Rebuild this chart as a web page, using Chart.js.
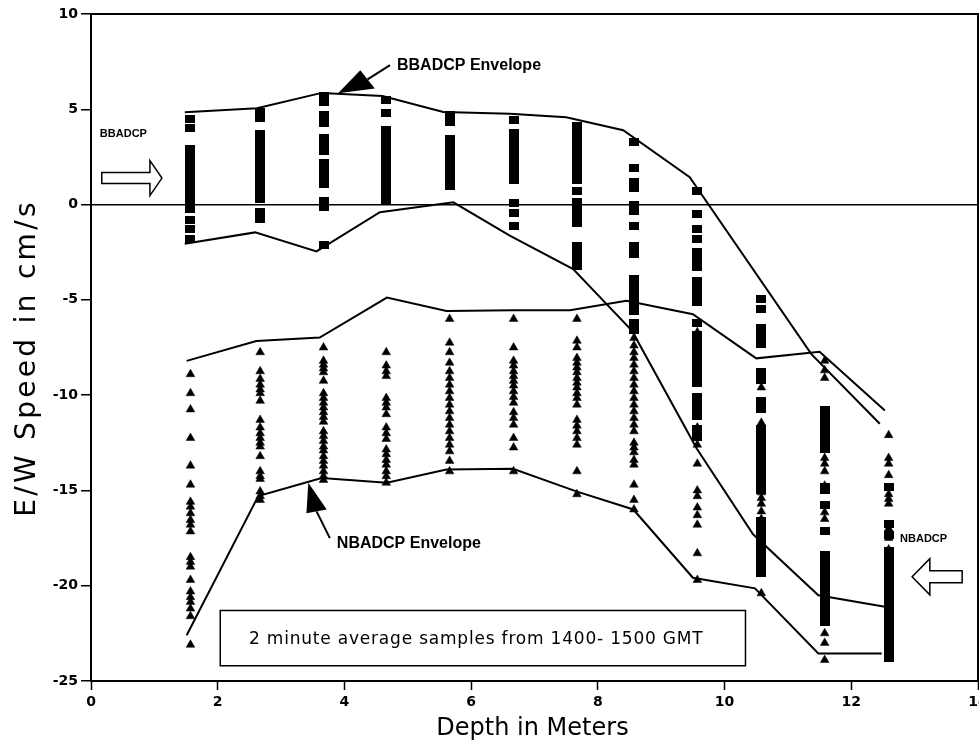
<!DOCTYPE html>
<html>
<head>
<meta charset="utf-8">
<script src="https://cdn.jsdelivr.net/npm/chart.js@4.4.1/dist/chart.umd.min.js"></script>
<style>
  html, body { margin: 0; padding: 0; background: #fff; overflow: hidden; }
  #wrap { position: relative; width: 1000px; height: 744px; }
</style>
</head>
<body>
<div id="wrap"><canvas id="chart"></canvas></div>
<script>
// depth of each sample column (m)
const depths = [1.57, 2.67, 3.67, 4.66, 5.66, 6.67, 7.67, 8.57, 9.57, 10.58, 11.58, 12.59];

// BBADCP samples (squares), one list per depth
const bbSamples = [
  [4.5, 4.0, 2.9, 2.55, 2.2, 1.85, 1.5, 1.15, 0.8, 0.45, 0.1, -0.25, -0.8, -1.3, -1.8],
  [4.85, 4.55, 3.7, 3.35, 3.0, 2.65, 2.3, 1.95, 1.6, 1.25, 0.9, 0.55, 0.3, -0.4, -0.75],
  [5.7, 5.4, 4.7, 4.3, 3.5, 3.1, 2.8, 2.2, 1.85, 1.5, 1.1, 0.2, -0.15, -2.1],
  [5.5, 4.8, 3.9, 3.55, 3.2, 2.85, 2.5, 2.15, 1.8, 1.45, 1.1, 0.75, 0.4, 0.2],
  [4.7, 4.35, 3.45, 3.1, 2.75, 2.4, 2.05, 1.7, 1.35, 1.0],
  [4.45, 3.75, 3.4, 3.05, 2.7, 2.35, 2.0, 1.65, 1.3, 0.1, -0.45, -1.1],
  [4.1, 3.75, 3.4, 3.05, 2.7, 2.35, 2.0, 1.65, 1.3, 0.7, 0.15, -0.2, -0.55, -0.95, -2.2, -2.55, -2.9, -3.2],
  [3.3, 1.9, 1.2, 0.85, 0.0, -0.35, -1.1, -2.2, -2.6, -3.9, -4.25, -4.6, -4.95, -5.3, -5.6, -6.2, -6.6],
  [0.7, -0.5, -1.3, -1.8, -2.5, -2.9, -3.3, -4.0, -4.35, -4.7, -5.1, -6.2, -6.85, -7.2, -7.55, -7.9,
   -8.25, -8.6, -8.95, -9.35, -10.1, -10.45, -10.8, -11.1, -11.8, -12.2],
  [-4.95, -5.5, -6.5, -6.9, -7.3, -8.8, -9.2, -10.3, -10.75, -11.8, -12.2, -12.6, -12.95, -13.3, -13.65,
   -14.0, -14.35, -14.7, -15.0, -16.6, -16.95, -17.3, -17.6, -17.95, -18.3, -18.65, -19.0, -19.35],
  [-10.8, -11.15, -11.5, -11.85, -12.2, -12.55, -12.8, -14.8, -15.0, -15.75, -17.15, -18.4, -18.75, -19.1,
   -19.45, -19.8, -20.15, -20.5, -20.85, -21.1, -21.5, -21.9],
  [-14.8, -16.75, -17.35, -18.2, -18.55, -18.9, -19.25, -19.6, -19.95, -20.3, -20.65, -21.0, -21.35,
   -21.7, -22.05, -22.4, -22.75, -23.1, -23.45, -23.8]
];

// NBADCP samples (triangles), one list per depth
const nbSamples = [
  [-8.9, -9.9, -10.75, -12.25, -13.7, -14.7, -15.6, -15.85, -16.2, -16.55, -16.8, -17.15, -18.5, -18.75,
   -19.0, -19.7, -20.3, -20.6, -20.85, -21.2, -21.6, -23.1],
  [-7.75, -8.75, -9.15, -9.45, -9.7, -9.9, -10.3, -11.3, -11.7, -12.0, -12.25, -12.5, -12.7, -13.2, -14.0,
   -14.25, -14.4, -15.05, -15.3, -15.5],
  [-7.5, -8.2, -8.4, -8.6, -8.8, -9.25, -9.9, -10.15, -10.4, -10.65, -10.9, -11.15, -11.4, -11.9, -12.15,
   -12.4, -12.7, -12.9, -13.2, -13.45, -13.7, -14.0, -14.25, -14.45],
  [-7.75, -8.45, -8.75, -9.0, -10.15, -10.4, -10.65, -11.0, -11.7, -12.0, -12.3, -12.85, -13.1, -13.4,
   -13.65, -14.0, -14.25, -14.6],
  [-6.0, -7.25, -7.75, -8.3, -8.75, -9.1, -9.45, -9.8, -10.15, -10.5, -10.85, -11.2, -11.55, -11.9,
   -12.25, -12.6, -12.95, -13.45, -14.0],
  [-6.0, -7.5, -8.2, -8.45, -8.75, -9.0, -9.25, -9.5, -9.8, -10.1, -10.4, -10.9, -11.2, -11.55, -12.25,
   -12.75, -14.0],
  [-6.0, -7.15, -7.5, -8.05, -8.3, -8.55, -8.8, -9.1, -9.35, -9.6, -9.9, -10.15, -10.5, -11.3, -11.6,
   -11.9, -12.25, -12.6, -14.0, -15.2],
  [-7.0, -7.4, -7.75, -8.05, -8.4, -8.75, -9.1, -9.45, -9.8, -10.15, -10.5, -10.85, -11.2, -11.55, -11.9,
   -12.5, -12.75, -13.0, -13.4, -13.65, -14.7, -15.5, -16.0],
  [-6.7, -11.7, -12.2, -12.6, -13.6, -15.0, -15.3, -15.9, -16.3, -16.8, -18.3, -19.7],
  [-9.6, -11.45, -15.1, -15.4, -15.7, -16.1, -16.5, -17.0, -17.4, -18.5, -20.4],
  [-8.2, -8.7, -9.1, -13.3, -13.6, -14.0, -14.75, -15.0, -16.15, -16.5, -22.5, -23.0, -23.9],
  [-12.1, -13.3, -13.6, -14.2, -15.2, -15.45, -15.7, -17.0, -17.5, -18.1]
];

// envelopes
const bbTopDepth = [1.48, 2.62, 3.64, 4.6, 5.56, 6.61, 7.5, 8.4, 9.45, 11.37, 12.45];
const bbTop      = [4.84, 5.05, 5.86, 5.7, 4.86, 4.77, 4.58, 3.9, 1.44, -7.85, -11.5];
const bbBotDepth = [1.48, 2.59, 3.56, 4.56, 5.72, 6.61, 7.61, 8.54, 9.56, 10.45, 11.48, 12.53];
const bbBot      = [-2.05, -1.46, -2.46, -0.4, 0.12, -1.63, -3.39, -6.63, -12.8, -17.3, -20.5, -21.1];
const nbTopDepth = [1.51, 2.61, 3.61, 4.67, 5.61, 6.66, 7.56, 8.45, 9.5, 10.5, 11.5, 12.53];
const nbTop      = [-8.2, -7.16, -6.98, -4.88, -5.58, -5.55, -5.54, -5.05, -5.75, -8.07, -7.72, -10.8];
const nbBotDepth = [1.51, 2.64, 3.64, 4.67, 5.61, 6.66, 7.66, 8.56, 9.5, 10.48, 11.48, 12.48];
const nbBot      = [-22.6, -15.3, -14.35, -14.6, -13.9, -13.86, -15.05, -16.0, -19.58, -20.14, -23.56, -23.56];

const xRange = [0, 14];
const yRange = [-25, 10];

const toPoints = samples => samples.flatMap((col, i) => col.map(v => ({ x: depths[i], y: v })));
const pair = (xs, ys) => xs.map((x, i) => ({ x, y: ys[i] }));

// square marker, a bit wider than tall like the plotter's
const square = document.createElement('canvas');
square.width = 10; square.height = 8;
const sq = square.getContext('2d');
sq.fillStyle = '#000';
sq.fillRect(0, 0, 10, 8);

const envelope = (xs, ys) => ({
  type: 'line', data: pair(xs, ys), borderColor: '#000', borderWidth: 2,
  pointRadius: 0, fill: false, tension: 0
});

// callouts, box, frame and titles
const notes = {
  id: 'notes',
  afterDraw(chart) {
    const { ctx, chartArea: a, scales: { x, y } } = chart;
    const X = v => x.getPixelForValue(v), Y = v => y.getPixelForValue(v);
    ctx.save();
    ctx.strokeStyle = '#000';
    ctx.fillStyle = '#000';

    // frame
    ctx.lineWidth = 2;
    ctx.strokeRect(a.left, a.top, a.right - a.left, a.bottom - a.top);

    // filled callout arrows
    const callout = (tail, tip, c1, c2) => {
      ctx.lineWidth = 2;
      ctx.beginPath();
      ctx.moveTo(X(tail[0]), Y(tail[1]));
      ctx.lineTo((X(c1[0]) + X(c2[0])) / 2, (Y(c1[1]) + Y(c2[1])) / 2);
      ctx.stroke();
      ctx.beginPath();
      ctx.moveTo(X(tip[0]), Y(tip[1]));
      ctx.lineTo(X(c1[0]), Y(c1[1]));
      ctx.lineTo(X(c2[0]), Y(c2[1]));
      ctx.closePath();
      ctx.fill();
    };
    callout([4.72, 7.32], [3.9, 5.84], [4.25, 7.05], [4.48, 6.09]);
    callout([3.77, -17.5], [3.43, -14.6], [3.40, -16.2], [3.72, -16.0]);

    // hollow block arrows
    const block = (tail, neck, tip, c, h, H) => {
      ctx.lineWidth = 1.5;
      ctx.beginPath();
      ctx.moveTo(X(tail), Y(c + h));
      ctx.lineTo(X(neck), Y(c + h));
      ctx.lineTo(X(neck), Y(c + H));
      ctx.lineTo(X(tip), Y(c));
      ctx.lineTo(X(neck), Y(c - H));
      ctx.lineTo(X(neck), Y(c - h));
      ctx.lineTo(X(tail), Y(c - h));
      ctx.closePath();
      ctx.stroke();
    };
    block(0.17, 0.93, 1.12, 1.39, 0.29, 0.92);
    block(13.75, 13.24, 12.96, -19.53, 0.32, 0.95);

    ctx.textBaseline = 'alphabetic';
    ctx.textAlign = 'left';
    ctx.font = 'bold 16px "Liberation Sans"';
    ctx.fillText('BBADCP Envelope', X(4.83), Y(7.05));
    ctx.fillText('NBADCP Envelope', X(3.88), Y(-18.04));
    ctx.font = 'bold 11px "Liberation Sans"';
    ctx.fillText('BBADCP', X(0.14), Y(3.54));
    ctx.fillText('NBADCP', X(12.77), Y(-17.68));

    // note box
    ctx.lineWidth = 1.5;
    ctx.strokeRect(X(2.04), Y(-21.3), X(10.33) - X(2.04), Y(-24.2) - Y(-21.3));
    ctx.font = '17px "DejaVu Sans"';
    ctx.textAlign = 'center';
    ctx.letterSpacing = '0.8px';
    ctx.fillText('2 minute average samples from 1400- 1500 GMT', X(6.08), Y(-23.05));

    // axis titles
    ctx.font = '24px "DejaVu Sans"';
    ctx.letterSpacing = '0px';
    ctx.fillText('Depth in Meters', (a.left + a.right) / 2 - 2, 735);
    ctx.translate(35, 358);
    ctx.rotate(-Math.PI / 2);
    ctx.font = '28px "DejaVu Sans"';
    ctx.letterSpacing = '3.3px';
    ctx.fillText('E/W Speed in cm/s', 0, 0);
    ctx.restore();
  }
};

const tickFont = { family: '"DejaVu Sans"', size: 14, weight: 'bold' };

new Chart(document.getElementById('chart'), {
  type: 'scatter',
  data: {
    datasets: [
      envelope(bbTopDepth, bbTop),
      envelope(bbBotDepth, bbBot),
      envelope(nbTopDepth, nbTop),
      envelope(nbBotDepth, nbBot),
      {
        label: 'BBADCP', data: toPoints(bbSamples), pointStyle: square,
        pointRadius: 5, backgroundColor: '#000', borderWidth: 0
      },
      {
        label: 'NBADCP', data: toPoints(nbSamples), pointStyle: 'triangle',
        pointRadius: 5, backgroundColor: '#000', borderColor: '#000', borderWidth: 0.5
      }
    ]
  },
  options: {
    responsive: true,
    maintainAspectRatio: false,
    animation: false,
    events: [],
    layout: { padding: { left: 0, top: 14, right: 22, bottom: 0 } },
    plugins: { legend: { display: false }, tooltip: { enabled: false } },
    scales: {
      x: {
        type: 'linear', min: xRange[0], max: xRange[1],
        border: { display: false },
        grid: { drawOnChartArea: false, tickColor: '#000', tickLength: 9, tickWidth: 1.5 },
        ticks: { stepSize: 2, color: '#000', font: tickFont, padding: 4, maxRotation: 0 },
        afterFit: s => { s.height = 63; }
      },
      y: {
        type: 'linear', min: yRange[0], max: yRange[1],
        border: { display: false },
        grid: {
          color: c => (c.tick && c.tick.value === 0 ? '#000' : 'rgba(0,0,0,0)'),
          lineWidth: 1.5, tickColor: '#000', tickLength: 10, tickWidth: 1.5
        },
        ticks: { stepSize: 5, color: '#000', font: tickFont, padding: 3 },
        afterFit: s => { s.width = 91; }
      }
    }
  },
  plugins: [notes]
});
</script>
</body>
</html>
